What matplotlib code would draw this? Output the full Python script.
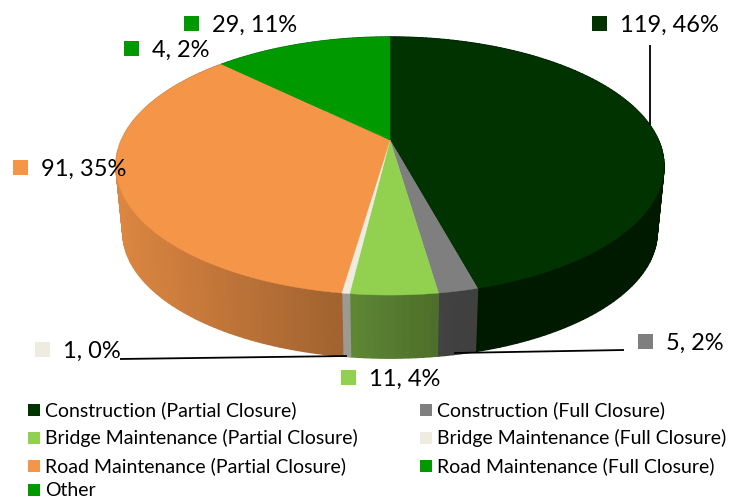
import matplotlib
matplotlib.use("Agg")
import matplotlib.pyplot as plt
import numpy as np
from matplotlib.patches import Rectangle

plt.rcParams["font.family"] = ["Lato", "DejaVu Sans"]

categories = [
    "Construction (Partial Closure)",
    "Construction (Full Closure)",
    "Bridge Maintenance (Partial Closure)",
    "Bridge Maintenance (Full Closure)",
    "Road Maintenance (Partial Closure)",
    "Road Maintenance (Full Closure)",
    "Other",
]
values = [119, 5, 11, 1, 91, 4, 29]
colors = ["#003300", "#7F7F7F", "#92D050", "#EEECE1", "#F49548", "#009900", "#009900"]

# upper left corner of the square next to each data label, in pixels
label_pos = [(592, 16), (638, 334), (341, 370), (35, 342), (13, 160), (124, 41), (184, 16)]
leaders = [((650, 45), (650, 125)), ((454, 353), (624, 350)), ((120, 359), (347, 356))]
legend_pos = [(28, 410), (420, 410), (28, 438), (420, 438), (28, 466), (420, 466), (28, 490)]

APEX = (390, 140)
P = 0.2016  # perspective of the disc
A, B = 123.8, 268.4
BOTTOM_SCALE, DEPTH = 0.975, 67

# how much the side wall is darkened along the x axis
SHADE_X = [115, 340, 400, 460, 670]
SHADE_F = [0.90, 0.66, 0.58, 0.50, 0.50]


def project(theta, scale=1.0, dy=0.0):
    # theta is clockwise from 12 o'clock
    u, v = np.sin(theta), np.cos(theta)
    w = 1 + P * v
    return APEX[0] + scale * B * u / w, APEX[1] + dy - scale * A * v / w


fig = plt.figure(figsize=(7.31, 4.99), dpi=100)
ax = fig.add_axes([0, 0, 1, 1])
ax.set_xlim(0, 731)
ax.set_ylim(499, 0)
ax.set_axis_off()

edges = np.cumsum([0] + values) / sum(values) * 2 * np.pi

# side wall first, the top face covers whatever is behind
for i, c in enumerate(colors):
    n = max(int((edges[i + 1] - edges[i]) / 0.02), 2)
    th = np.linspace(edges[i], edges[i + 1], n)
    base = np.array(matplotlib.colors.to_rgb(c))
    for t0, t1 in zip(th[:-1], th[1:]):
        x0, y0 = project(t0)
        x1, y1 = project(t1)
        x2, y2 = project(t1, BOTTOM_SCALE, DEPTH)
        x3, y3 = project(t0, BOTTOM_SCALE, DEPTH)
        f = np.interp((x0 + x1) / 2, SHADE_X, SHADE_F)
        ax.fill([x0, x1, x2, x3], [y0, y1, y2, y3], color=base * f, lw=1.0, zorder=1)

# top face
for i, c in enumerate(colors):
    th = np.linspace(edges[i], edges[i + 1], 200)
    x, y = project(th)
    ax.fill(np.r_[APEX[0], x], np.r_[APEX[1], y], color=c, lw=0.3, zorder=2)

for (x0, y0), (x1, y1) in leaders:
    ax.plot([x0, x1], [y0, y1], color="#000000", lw=1.3, zorder=3, solid_capstyle="butt")

total = sum(values)
for v, c, (x, y) in zip(values, colors, label_pos):
    ax.add_patch(Rectangle((x, y), 15, 15, color=c, lw=0, zorder=4))
    ax.text(x + 28, y + 9, f"{v}, {round(100 * v / total)}%", fontsize=17,
            ha="left", va="center", color="#000000", zorder=4)

for name, c, (x, y) in zip(categories, colors, legend_pos):
    ax.add_patch(Rectangle((x, y - 6), 12, 12, color=c, lw=0, zorder=4))
    ax.text(x + 17, y, name, fontsize=14, ha="left", va="center", color="#000000", zorder=4)

fig.savefig("out.png", dpi=100)
